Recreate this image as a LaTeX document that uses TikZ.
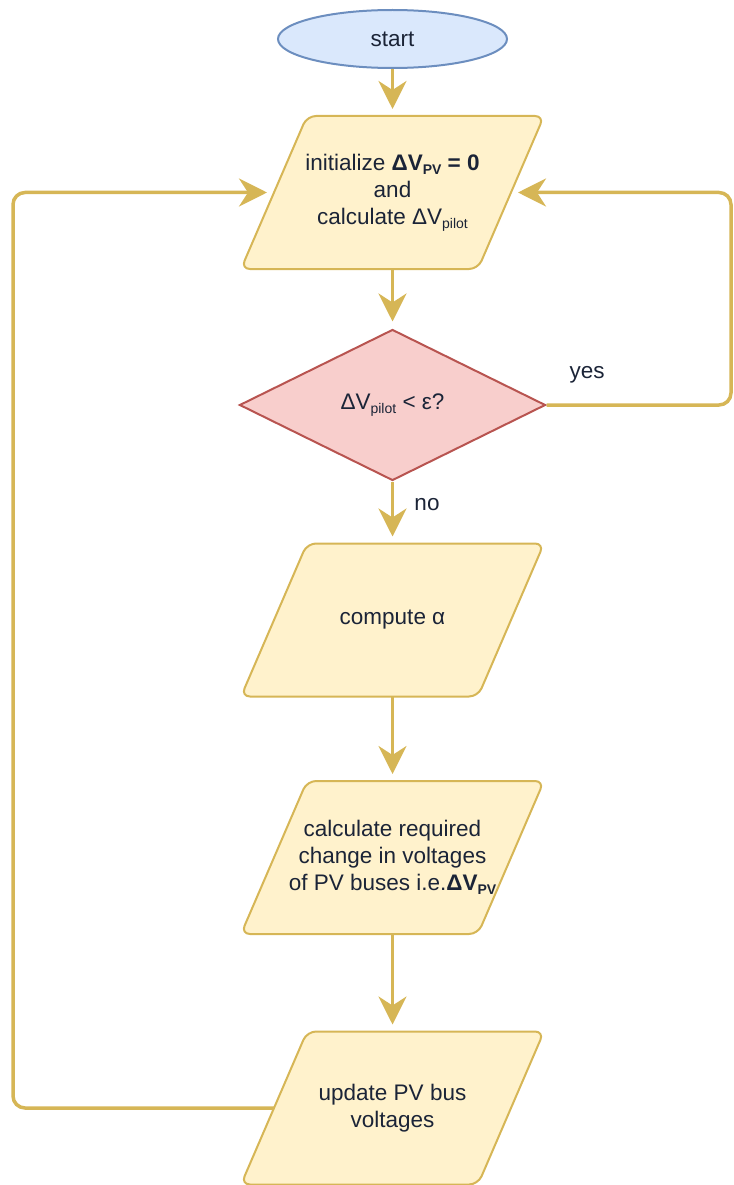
\documentclass[tikz,border=0pt]{standalone}
\usepackage{fontspec}
\setmainfont{Liberation Sans}
\usetikzlibrary{shapes.geometric,arrows.meta,backgrounds}
\definecolor{ystroke}{HTML}{D6B656}
\definecolor{yfill}{HTML}{FFF2CC}
\definecolor{bstroke}{HTML}{6C8EBF}
\definecolor{bfill}{HTML}{DAE8FC}
\definecolor{rstroke}{HTML}{B85450}
\definecolor{rfill}{HTML}{F8CECC}
\definecolor{ink}{HTML}{1B2437}
% small lowered text for subscripts
\newcommand{\lowtxt}[1]{\raisebox{-0.35ex}{\fontsize{14}{14}\selectfont #1}}
% slanted data box drawn behind a named node (slant 33pt each side)
\newcommand{\slantbox}[1]{%
  \draw[iobox] ([xshift=33pt]#1.north west) -- ([xshift=33pt]#1.north east)
    -- ([xshift=-33pt]#1.south east) -- ([xshift=-33pt]#1.south west) -- cycle;}
\begin{document}
\begin{tikzpicture}[x=1pt,y=1pt,
  every node/.style={text=ink, font=\fontsize{22.5}{27}\selectfont, align=center},
  term/.style={ellipse, draw=bstroke, fill=bfill, line width=2pt,
    minimum width=229pt, minimum height=58pt, inner sep=0pt},
  io/.style={rectangle, minimum width=235pt, minimum height=151pt,
    inner sep=0pt, outer sep=1pt},
  iobox/.style={draw=ystroke, fill=yfill, line width=2pt, rounded corners=9pt},
  decide/.style={diamond, draw=rstroke, fill=rfill, line width=2pt, aspect=2,
    minimum width=306pt, minimum height=151pt, inner sep=0pt},
  conn/.style={draw=ystroke, line width=3.5pt,
    -{Stealth[length=28pt,width=28pt,inset=9pt]}, shorten >=7pt},
  loopline/.style={conn, rounded corners=12pt}
]
\useasboundingbox (0,0) rectangle (733,-1185);

\node[term] (start) at (392.5,-39) {start};
\node[io] (init) at (392.5,-192.5)
  {initialize \textbf{ΔV\lowtxt{PV} = 0}\\and\\calculate ΔV\lowtxt{pilot}};
\node[decide] (test) at (392.5,-405) {ΔV\lowtxt{pilot} < ε?};
\node[io] (alpha) at (392.5,-620) {compute α};
\node[io] (change) at (392.5,-857.5)
  {calculate required\\change in voltages\\of PV buses i.e.\textbf{ΔV\lowtxt{PV}}};
\node[io] (update) at (392.5,-1108) {update PV bus\\voltages};

\begin{scope}[on background layer]
  \slantbox{init}
  \slantbox{alpha}
  \slantbox{change}
  \slantbox{update}
\end{scope}

\node (yes) at (587,-375) {yes};
\node (no) at (427,-505) {no};

\coordinate (rc) at (731,-405);
\coordinate (lc) at (13,-1108);

\draw[conn] (start) -- (init);
\draw[conn] (init) -- (test);
\draw[conn] (test) -- (alpha);
\draw[conn] (alpha) -- (change);
\draw[conn] (change) -- (update);
\draw[loopline] (test.east) -- (rc) |- (init.east);
\draw[loopline] (update.west) -- (lc) |- (init.west);
\end{tikzpicture}
\end{document}
